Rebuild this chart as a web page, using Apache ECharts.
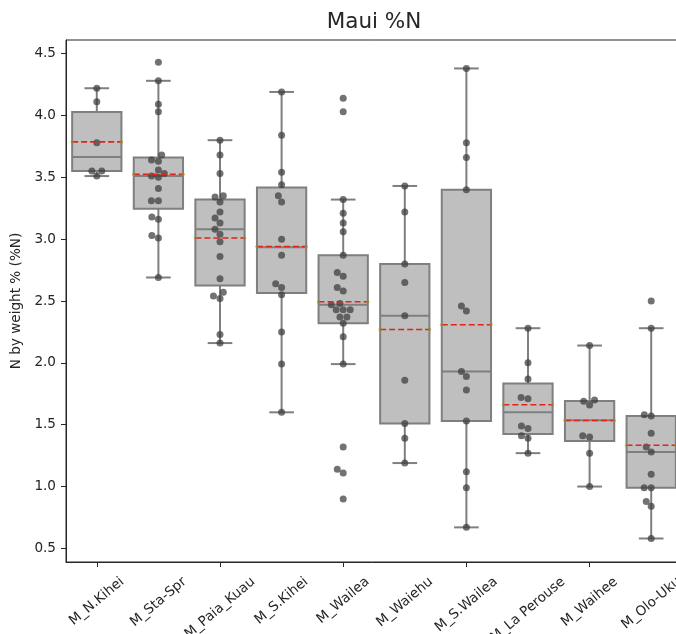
<!DOCTYPE html>
<html>
<head>
<meta charset="utf-8">
<script src="https://cdn.jsdelivr.net/npm/echarts@6/dist/echarts.min.js"></script>
<style>html,body{margin:0;padding:0;background:#fff}#c{width:676px;height:634px}</style>
</head>
<body>
<div id="c"></div>
<script>
// ---------------- data ----------------
const categories = ['M_N.Kihei', 'M_Sta-Spr', 'M_Paia_Kuau', 'M_S.Kihei', 'M_Wailea',
  'M_Waiehu', 'M_S.Wailea', 'M_La Perouse', 'M_Waihee', 'M_Olo-Uku'];

const nKihei = [4.22, 4.11, 3.78, 3.55, 3.55, 3.51];
const staSpr = [4.43, 4.28, 4.09, 4.03, 3.68, 3.64, 3.63, 3.56, 3.53, 3.51, 3.50, 3.41, 3.31, 3.31, 3.18, 3.16, 3.03, 3.01, 2.69];
const paiaKuau = [3.80, 3.68, 3.53, 3.35, 3.34, 3.30, 3.22, 3.17, 3.13, 3.08, 3.04, 2.98, 2.86, 2.68, 2.57, 2.54, 2.52, 2.23, 2.16];
const sKihei = [4.19, 3.84, 3.54, 3.44, 3.35, 3.30, 3.00, 2.87, 2.64, 2.61, 2.55, 2.25, 1.99, 1.60];
const wailea = [4.14, 4.03, 3.32, 3.21, 3.13, 3.06, 2.87, 2.73, 2.70, 2.61, 2.58, 2.48, 2.47, 2.43, 2.43, 2.43, 2.37, 2.37, 2.32, 2.21, 1.99, 1.32, 1.14, 1.11, 0.90];
const waiehu = [3.43, 3.22, 2.80, 2.65, 2.38, 1.86, 1.51, 1.39, 1.19];
const sWailea = [4.38, 3.78, 3.66, 3.40, 2.46, 2.42, 1.93, 1.89, 1.78, 1.53, 1.12, 0.99, 0.67];
const laPerouse = [2.28, 2.00, 1.87, 1.72, 1.71, 1.49, 1.47, 1.41, 1.39, 1.27];
const waihee = [2.14, 1.70, 1.69, 1.66, 1.41, 1.40, 1.27, 1.00];
const oloUku = [2.50, 2.28, 1.58, 1.57, 1.43, 1.32, 1.28, 1.10, 0.99, 0.99, 0.88, 0.84, 0.58];

const groups = [nKihei, staSpr, paiaKuau, sKihei, wailea, waiehu, sWailea, laPerouse, waihee, oloUku];

const yTicks = [0.5, 1.0, 1.5, 2.0, 2.5, 3.0, 3.5, 4.0, 4.5];
const yRange = [0.39, 4.61];

const titleText = 'Maui %N';
const yName = 'N by weight % (%N)';

// ---------------- styling / layout ----------------
const FONT = 'DejaVu Sans';
const FS = 13.6;
const INK = '#262626';
const FACE = '#bfbfbf';
const EDGE = '#7f7f7f';
const G = { left: 66, top: 40, width: 616, height: 522 };

// ---------------- statistics ----------------
function quant(s, p) {
  const pos = p * (s.length - 1);
  const lo = Math.floor(pos), hi = Math.ceil(pos);
  return s[lo] + (s[hi] - s[lo]) * (pos - lo);
}
const stats = groups.map((g, i) => {
  const s = [...g].sort((a, b) => a - b);
  const q1 = quant(s, 0.25), med = quant(s, 0.5), q3 = quant(s, 0.75);
  const iqr = q3 - q1;
  const lo = s.find(v => v >= q1 - 1.5 * iqr);
  const hi = [...s].reverse().find(v => v <= q3 + 1.5 * iqr);
  const mean = s.reduce((a, b) => a + b, 0) / s.length;
  return [i, lo, q1, med, q3, hi, mean];
});

// ---------------- swarm layout (pixel offsets) ----------------
const pxY = G.height / (yRange[1] - yRange[0]);
const DIAM = 7;
const points = [];
groups.forEach((g, i) => {
  const s = [...g].sort((a, b) => a - b);
  const placed = [];
  s.forEach(v => {
    const y = v * pxY;
    const cands = [0];
    placed.forEach(p => {
      const dy = Math.abs(p.y - y);
      if (dy < DIAM) {
        const dx = Math.sqrt(DIAM * DIAM - dy * dy);
        cands.push(p.x - dx, p.x + dx);
      }
    });
    cands.sort((a, b) => Math.abs(a) - Math.abs(b));
    let x = 0;
    for (const c of cands) {
      if (placed.every(p => (p.x - c) ** 2 + (p.y - y) ** 2 >= DIAM * DIAM - 1e-6)) { x = c; break; }
    }
    placed.push({ x, y });
    points.push([i, v, x]);
  });
});

// ---------------- x labels: centred under ticks, rotated 40deg ----------------
const ctx = document.createElement('canvas').getContext('2d');
const LABEL_FONT = FS + 'px "' + FONT + '"';
ctx.font = LABEL_FONT;
const ROT = 40 * Math.PI / 180, s40 = Math.sin(ROT), c40 = Math.cos(ROT);
const hM = 1.164 * FS;
const LABEL_TOP = 12;
const labelData = categories.map((name, i) => {
  const w = ctx.measureText(name).width;
  const H = w * s40 + hM * c40;
  return [i, yRange[0], LABEL_TOP + H / 2];
});

// ---------------- chart ----------------
const chart = echarts.init(document.getElementById('c'), null, { renderer: 'canvas' });
chart.setOption({
  animation: false,
  backgroundColor: '#ffffff',
  textStyle: { fontFamily: FONT },
  title: {
    text: titleText, left: G.left + G.width / 2, top: 11, textAlign: 'center', padding: 0,
    textStyle: { fontFamily: FONT, fontSize: 21.5, fontWeight: 'normal', color: INK }
  },
  grid: {
    left: G.left, top: G.top, width: G.width, height: G.height,
    show: true, borderColor: INK, borderWidth: 1, backgroundColor: 'transparent',
    containLabel: false, outerBoundsMode: 'none'
  },
  xAxis: {
    type: 'category', data: categories, boundaryGap: true,
    axisLine: { show: true, lineStyle: { color: INK, width: 1 } },
    axisTick: { show: true, alignWithLabel: true, length: 5, lineStyle: { color: INK } },
    axisLabel: { show: false },
    splitLine: { show: false }
  },
  yAxis: {
    type: 'value', min: yRange[0], max: yRange[1],
    name: yName, nameLocation: 'middle', nameGap: 40, nameRotate: 90,
    nameTextStyle: { color: INK, fontSize: FS, fontFamily: FONT },
    axisLine: { show: true, lineStyle: { color: INK, width: 1 } },
    axisTick: { show: true, length: 5, customValues: yTicks, lineStyle: { color: INK } },
    axisLabel: {
      customValues: yTicks, margin: 10, color: INK, fontSize: FS, fontFamily: FONT,
      formatter: v => Number(v).toFixed(1)
    },
    splitLine: { show: false }
  },
  series: [
    {
      type: 'custom', name: 'box', data: stats, z: 2,
      encode: { x: 0, y: [1, 2, 3, 4, 5] },
      renderItem(params, api) {
        const i = api.value(0);
        const cx = api.coord([i, api.value(3)])[0];
        const bw = api.size([1, 0])[0] * 0.8;
        const yLo = api.coord([i, api.value(1)])[1];
        const yQ1 = api.coord([i, api.value(2)])[1];
        const yMed = api.coord([i, api.value(3)])[1];
        const yQ3 = api.coord([i, api.value(4)])[1];
        const yHi = api.coord([i, api.value(5)])[1];
        const st = { stroke: EDGE, lineWidth: 2, fill: null };
        return {
          type: 'group', children: [
            { type: 'line', shape: { x1: cx, y1: yQ1, x2: cx, y2: yLo }, style: st },
            { type: 'line', shape: { x1: cx, y1: yQ3, x2: cx, y2: yHi }, style: st },
            { type: 'line', shape: { x1: cx - bw / 4, y1: yLo, x2: cx + bw / 4, y2: yLo }, style: st },
            { type: 'line', shape: { x1: cx - bw / 4, y1: yHi, x2: cx + bw / 4, y2: yHi }, style: st },
            { type: 'rect', shape: { x: cx - bw / 2, y: yQ3, width: bw, height: yQ1 - yQ3 },
              style: { fill: FACE, stroke: EDGE, lineWidth: 2 } },
            { type: 'line', shape: { x1: cx - bw / 2, y1: yMed, x2: cx + bw / 2, y2: yMed }, style: st }
          ]
        };
      }
    },
    {
      type: 'custom', name: 'points', data: points, z: 3,
      encode: { x: 0, y: 1 },
      renderItem(params, api) {
        const p = api.coord([api.value(0), api.value(1)]);
        return {
          type: 'circle', shape: { cx: p[0] + api.value(2), cy: p[1], r: DIAM / 2 },
          style: { fill: 'rgba(60,60,60,0.72)', stroke: null }
        };
      }
    },
    {
      type: 'custom', name: 'mean', data: stats.map(s => [s[0], s[6]]), z: 4,
      encode: { x: 0, y: 1 },
      renderItem(params, api) {
        const p = api.coord([api.value(0), api.value(1)]);
        const bw = api.size([1, 0])[0] * 0.8;
        const endStyle = { fill: 'rgba(150,140,40,0.75)', stroke: null };
        return {
          type: 'group', children: [
            { type: 'line', shape: { x1: p[0] - bw / 2, y1: p[1], x2: p[0] + bw / 2, y2: p[1] },
              style: { stroke: '#e2231a', lineWidth: 1.6, lineDash: [6, 3] } },
            { type: 'circle', shape: { cx: p[0] - bw / 2, cy: p[1], r: 1.6 }, style: endStyle },
            { type: 'circle', shape: { cx: p[0] + bw / 2, cy: p[1], r: 1.6 }, style: endStyle }
          ]
        };
      }
    },
    {
      type: 'custom', name: 'xlabels', data: labelData, z: 5, clip: false, silent: true,
      encode: { x: 0, y: 1 },
      renderItem(params, api) {
        const i = api.value(0);
        const p = api.coord([i, api.value(1)]);
        return {
          type: 'text', x: p[0], y: p[1] + api.value(2), rotation: ROT,
          style: {
            text: categories[i], align: 'center', verticalAlign: 'middle',
            font: LABEL_FONT, fill: INK
          }
        };
      }
    }
  ]
});
</script>
</body>
</html>
